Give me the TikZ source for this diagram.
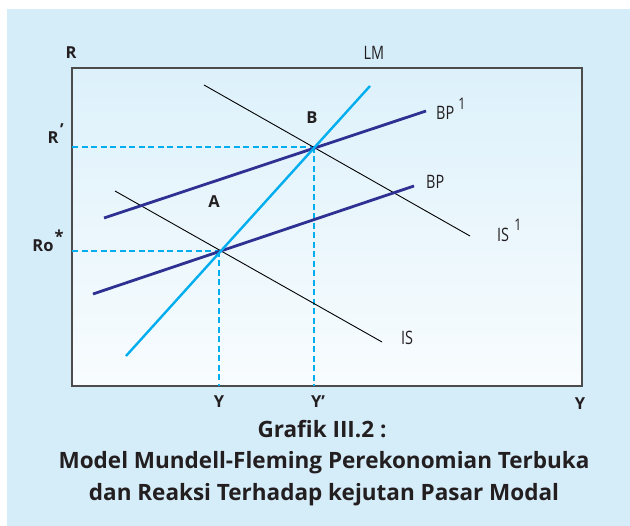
\documentclass[tikz,border=0pt]{standalone}
\usepackage{fontspec}
\setmainfont{Open Sans}
\newfontfamily\labfont[FakeStretch=0.78]{Open Sans}
\usetikzlibrary{calc}
\definecolor{bgblue}{HTML}{D5ECF9}
\definecolor{boxtop}{HTML}{DDF1FB}
\definecolor{boxbot}{HTML}{F8FCFE}
\definecolor{lmcyan}{HTML}{00AEEF}
\definecolor{bpnavy}{HTML}{2E3192}
\definecolor{txt}{HTML}{231F20}
\begin{document}
\begin{tikzpicture}[x=1pt,y=-1pt,
  lmline/.style={lmcyan,line width=2.4pt},
  bpline/.style={bpnavy,line width=2.8pt},
  isline/.style={black,line width=0.9pt},
  guide/.style={lmcyan,line width=2.3pt,dash pattern=on 6pt off 3.5pt},
  thinlab/.style={inner sep=0pt,text=txt,font=\labfont\fontsize{18.5}{18.5}\selectfont},
  suplab/.style={inner sep=0pt,text=txt,font=\labfont\fontsize{16}{16}\selectfont},
  boldlab/.style={inner sep=0pt,text=txt,font=\bfseries\fontsize{16.5}{16.5}\selectfont},
  titlelab/.style={inner sep=0pt,text=txt,font=\bfseries\fontsize{22.5}{22.5}\selectfont}]
\useasboundingbox (0,0) rectangle (630,526);
\fill[white] (0,0) rectangle (630,526);
\fill[bgblue] (7,9) rectangle (630,526);
% plot box
\shade[top color=boxtop,bottom color=boxbot] (72,68) rectangle (582,386);
\draw[black!70,line width=1.3pt] (72,68) rectangle (582,386);

% key points
\coordinate (A) at (219,251);
\coordinate (B) at (314,147);
\coordinate (axR) at (72,147);
\coordinate (axRo) at (72,251);
\coordinate (axYa) at (219,386);
\coordinate (axYb) at (314,386);

% guides
\draw[guide] (axR) -- (B);
\draw[guide] (axRo) -- (A);
\draw[guide] (A) -- (axYa);
\draw[guide] (B) -- (axYb);

% curves
\coordinate (lm0) at (126,356);
\coordinate (lm1) at (370,86);
\coordinate (bp0) at (93,294);
\coordinate (bp1) at (414,186);
\coordinate (bpa0) at (104,218);
\coordinate (bpa1) at (426,111);
\coordinate (is0) at (115,191);
\coordinate (is1) at (382,342);
\coordinate (isa0) at (204,85);
\coordinate (isa1) at (470,236);
\draw[isline] (is0) -- (is1);
\draw[isline] (isa0) -- (isa1);
\draw[bpline] (bp0) -- (bp1);
\draw[bpline] (bpa0) -- (bpa1);
\draw[lmline] (lm0) -- (lm1);

% labels
\node[boldlab] (lR) at (71,53) {R};
\node[thinlab] (lLM) at (374,53) {LM};
\node[thinlab,anchor=west] (lBP1) at (436,113) {BP};
\node[suplab] (lBP1s) at (462,104) {1};
\node[thinlab,anchor=west] (lBP) at (426,182) {BP};
\node[thinlab,anchor=west] (lIS1) at (497,235) {IS};
\node[suplab] (lIS1s) at (518,225) {1};
\node[thinlab,anchor=west] (lIS) at (401,338) {IS};
\node[boldlab] (lB) at (312,118) {B};
\node[boldlab] (lA) at (214,202) {A};
\node[boldlab] (lRp) at (53,138) {R};
\node[boldlab] (lRps) at (62,130) {\textquoteright};
\node[boldlab] (lRo) at (43,246) {Ro};
\node[boldlab] (lRos) at (59,236) {*};
\node[boldlab] (lY1) at (219,402) {Y};
\node[boldlab] (lY2) at (318,402) {Y\textquoteright};
\node[boldlab] (lY3) at (580,404) {Y};

% title
\node[titlelab] (t1) at (322,429) {Grafik III.2 :};
\node[titlelab] (t2) at (324,463) {Model Mundell-Fleming Perekonomian Terbuka};
\node[titlelab] (t3) at (324,495) {dan Reaksi Terhadap kejutan Pasar Modal};
\end{tikzpicture}
\end{document}
